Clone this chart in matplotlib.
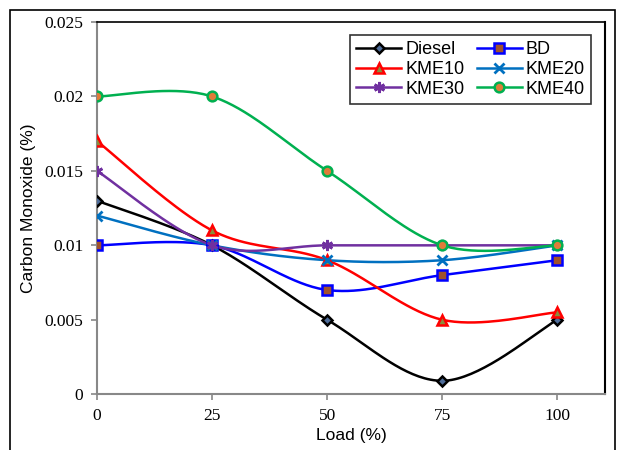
import numpy as np
import matplotlib
matplotlib.use('Agg')
import matplotlib.pyplot as plt
from matplotlib.patches import Rectangle

load = [0, 25, 50, 75, 100]
diesel = [0.013, 0.010, 0.005, 0.0009, 0.005]
bd = [0.010, 0.010, 0.007, 0.008, 0.009]
kme10 = [0.017, 0.011, 0.009, 0.005, 0.0055]
kme20 = [0.012, 0.010, 0.009, 0.009, 0.010]
kme30 = [0.015, 0.010, 0.010, 0.010, 0.010]
kme40 = [0.020, 0.020, 0.015, 0.010, 0.010]


def smooth(x, y, n=40):
    # Excel-style smoothed line (cardinal spline through the points)
    x = np.asarray(x, float)
    y = np.asarray(y, float)
    px = np.concatenate([[x[0]], x, [x[-1]]])
    py = np.concatenate([[y[0]], y, [y[-1]]])
    xs, ys = [], []
    t = np.linspace(0, 1, n)
    for i in range(1, len(px) - 2):
        p0, p1, p2, p3 = (np.array([px[j], py[j]]) for j in range(i - 1, i + 3))
        m1 = 0.5 * (p2 - p0)
        m2 = 0.5 * (p3 - p1)
        h00 = 2 * t**3 - 3 * t**2 + 1
        h10 = t**3 - 2 * t**2 + t
        h01 = -2 * t**3 + 3 * t**2
        h11 = t**3 - t**2
        pts = (np.outer(h00, p1) + np.outer(h10, m1)
               + np.outer(h01, p2) + np.outer(h11, m2))
        xs.extend(pts[:, 0])
        ys.extend(pts[:, 1])
    return xs, ys


series = [
    ('Diesel', diesel, 'black', 'D', '#4F6D9A', 5),
    ('BD', bd, '#0000FF', 's', '#A0522D', 7),
    ('KME10', kme10, '#FF0000', '^', '#8C8C3C', 7),
    ('KME20', kme20, '#0070C0', 'x', '#0070C0', 7),
    ('KME30', kme30, '#7030A0', '*', '#7030A0', 0),
    ('KME40', kme40, '#00B050', 'o', '#E07B39', 7),
]

fig = plt.figure(figsize=(6.22, 4.5), dpi=100)
ax = fig.add_axes([0.156, 0.124, 0.817, 0.827])

handles = {}
for name, vals, col, mk, fc, ms in series:
    sx, sy = smooth(load, vals)
    ax.plot(sx, sy, color=col, lw=1.8, zorder=2)
    if mk == '*':
        kw = dict(marker=(6, 2, 0), ms=8, mec=col, mew=2)
    elif mk == 'x':
        kw = dict(marker='x', ms=7, mec=col, mew=2)
    else:
        kw = dict(marker=mk, ms=ms, mfc=fc, mec=col, mew=1.8)
    ax.plot(load, vals, ls='none', zorder=3, **kw)
    h, = ax.plot([], [], color=col, lw=1.8, **kw)
    handles[name] = h

ax.set_xlim(0, 110.4)
ax.set_ylim(0, 0.025)
ax.set_xticks(load)
ax.set_yticks([0, 0.005, 0.01, 0.015, 0.02, 0.025])
ax.set_yticklabels(['0', '0.005', '0.01', '0.015', '0.02', '0.025'])
for lab in ax.get_xticklabels() + ax.get_yticklabels():
    lab.set_family('Liberation Serif')
    lab.set_fontsize(12.5)
ax.tick_params(direction='out', length=4, color='#888888', width=1.2, pad=6)

ax.spines['left'].set_color('#888888')
ax.spines['bottom'].set_color('#888888')
ax.spines['left'].set_linewidth(1.5)
ax.spines['bottom'].set_linewidth(1.5)
ax.spines['top'].set_color('black')
ax.spines['right'].set_color('black')
ax.spines['top'].set_linewidth(1.2)
ax.spines['right'].set_linewidth(1.5)

ax.set_xlabel('Load (%)', family='Liberation Sans', fontsize=12.5, labelpad=3)
ax.set_ylabel('Carbon Monoxide (%)', family='Liberation Sans', fontsize=12.5, labelpad=6)

# legend filled row by row: Diesel, BD / KME10, KME20 / KME30, KME40
order = ['Diesel', 'KME10', 'KME30', 'BD', 'KME20', 'KME40']
leg = ax.legend([handles[k] for k in order], order, ncol=2, loc='upper right',
                bbox_to_anchor=(0.972, 0.965),
                prop={'family': 'Liberation Sans', 'size': 13},
                frameon=True, fancybox=False, edgecolor='black',
                handlelength=2.5, handletextpad=0.2, columnspacing=0.7,
                labelspacing=0.15, borderpad=0.35, borderaxespad=0)
leg.get_frame().set_linewidth(1.2)

fig.patches.append(Rectangle((0.016, -0.05), 0.973, 1.028, transform=fig.transFigure,
                             fill=False, edgecolor='black', lw=1.2))

fig.savefig('out.png', dpi=100)
